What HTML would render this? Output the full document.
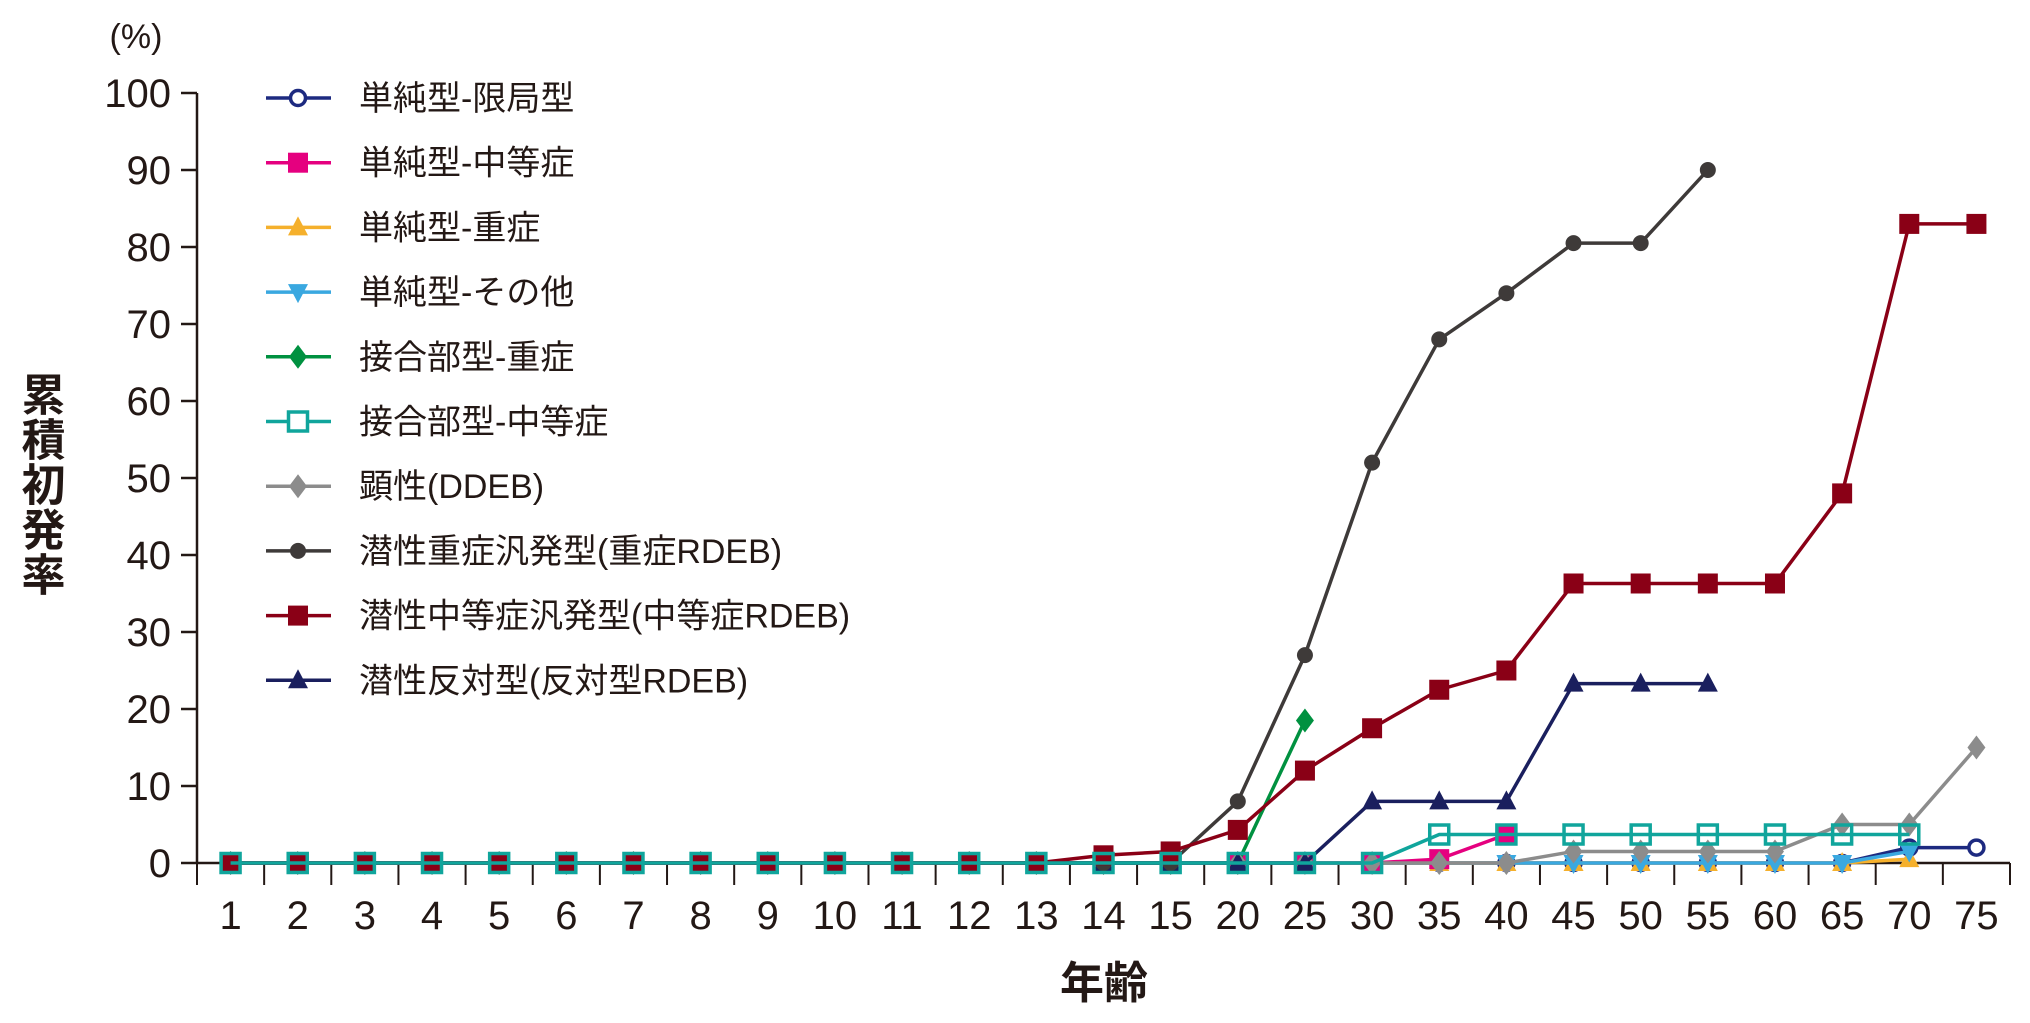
<!DOCTYPE html>
<html><head><meta charset="utf-8"><style>
html,body{margin:0;padding:0;background:#fff;}
svg{display:block;font-family:"Liberation Sans","Noto Sans CJK JP",sans-serif;}
</style></head><body>
<svg id="chart" width="2030" height="1023" viewBox="0 0 2030 1023" xmlns="http://www.w3.org/2000/svg">
<text x="136" y="48" font-size="34" text-anchor="middle" fill="#231815">(%)</text>
<text x="39" y="372" font-size="44" font-weight="bold" fill="#231815" style="writing-mode:vertical-rl;letter-spacing:1px" text-anchor="start">累積初発率</text>
<text x="1104" y="998" font-size="44" font-weight="bold" text-anchor="middle" fill="#231815">年齢</text>
<g id="axes"></g><g id="series"></g><g id="legend"></g>
</svg>
<script>
const categories=["1","2","3","4","5","6","7","8","9","10","11","12","13","14","15","20","25","30","35","40","45","50","55","60","65","70","75"];
const yTicks=[0,10,20,30,40,50,60,70,80,90,100];
const seriesNames=["単純型-限局型","単純型-中等症","単純型-重症","単純型-その他","接合部型-重症","接合部型-中等症","顕性(DDEB)","潜性重症汎発型(重症RDEB)","潜性中等症汎発型(中等症RDEB)","潜性反対型(反対型RDEB)"];
const z15=[0,0,0,0,0,0,0,0,0,0,0,0,0,0,0];
const sLocal=[...z15,0,0,0,0,0,0,0,0,0,0,2,2];
const sInter=[...z15,0,0,0,0.5,3.7,null,null,null,null,null,null,null];
const sSevere=[...z15,0,0,0,0,0,0,0,0,0,0,0.5,null];
const sOther=[...z15,0,0,0,0,0,0,0,0,0,0,1.5,null];
const jSevere=[...z15,0,18.5,null,null,null,null,null,null,null,null,null,null];
const jInter=[...z15,0,0,0,3.7,3.7,3.7,3.7,3.7,3.7,3.7,3.7,null];
const ddeb=[...z15,0,0,0,0,0,1.5,1.5,1.5,1.5,5,5,15];
const rSevere=[...z15,8,27,52,68,74,80.5,80.5,90,null,null,null,null];
const rInter=[0,0,0,0,0,0,0,0,0,0,0,0,0,1,1.5,4.3,12,17.5,22.5,25,36.3,36.3,36.3,36.3,48,83,83];
const rInv=[...z15,0,0,8,8,8,23.3,23.3,23.3,null,null,null,null];

const NS="http://www.w3.org/2000/svg";
const X0=197,X1=2010,Y0=863,Y100=93;
const step=(X1-X0)/categories.length;
const xs=i=>X0+step*(i+0.5);
function yy(v){return Y0-(Y0-Y100)*v/100;}
function mk(tag,attrs,parent){const e=document.createElementNS(NS,tag);for(const k in attrs)e.setAttribute(k,attrs[k]);parent.appendChild(e);return e;}
const axes=document.getElementById('axes');
const C="#231815";
let a=mk('line',{x1:X0,y1:Y100,x2:X0,y2:Y0,stroke:C,'stroke-width':2.5},axes);

a=mk('line',{x1:X0,y1:Y0,x2:X1,y2:Y0,stroke:C,'stroke-width':2.5},axes);

yTicks.forEach(v=>{
 const t=mk('line',{x1:X0-16,x2:X0,y1:yy(v),y2:yy(v),stroke:C,'stroke-width':2.5},axes);
 
 const l=mk('text',{x:X0-26,y:yy(v)+14,'font-size':40,'text-anchor':'end',fill:C},axes);
 
 l.textContent=v;
});
for(let i=0;i<=categories.length;i++){
 const t=mk('line',{x1:X0+step*i,x2:X0+step*i,y1:Y0,y2:Y0+22,stroke:C,'stroke-width':2},axes);
 
}
categories.forEach((c,i)=>{
 const l=mk('text',{x:xs(i),y:929,'font-size':40,'text-anchor':'middle',fill:C},axes);
 
 l.textContent=c;
});
const styles=[
 {d:sLocal,c:"#1d2a80",m:"circle",open:true},
 {d:sInter,c:"#e5007f",m:"square"},
 {d:sSevere,c:"#f5b02c",m:"tri"},
 {d:sOther,c:"#3aa8e0",m:"tridown"},
 {d:jSevere,c:"#009140",m:"diamond"},
 {d:jInter,c:"#10a59c",m:"square",open:true,nofill:true},
 {d:ddeb,c:"#8c8c8c",m:"diamond"},
 {d:rSevere,c:"#3e3a39",m:"circle"},
 {d:rInter,c:"#8a0016",m:"square"},
 {d:rInv,c:"#1a1f5e",m:"tri"}];
function marker(g,type,x,y,c,open,nofill){
 const fill=open?(nofill?"none":"#fff"):c,sw=open?3.5:0;let e;
 if(type==="circle")e=mk('circle',{cx:x,cy:y,r:open?7.5:8,fill,stroke:c,'stroke-width':sw},g);
 else if(type==="square"){const s=open?19:20;e=mk('rect',{x:x-s/2,y:y-s/2,width:s,height:s,fill,stroke:c,'stroke-width':sw},g);}
 else if(type==="tri")e=mk('polygon',{points:`${x},${y-11} ${x+10},${y+8} ${x-10},${y+8}`,fill},g);
 else if(type==="tridown")e=mk('polygon',{points:`${x},${y+11} ${x+10},${y-8} ${x-10},${y-8}`,fill},g);
 else e=mk('polygon',{points:`${x},${y-12} ${x+9},${y} ${x},${y+12} ${x-9},${y}`,fill},g);
 
}
const sg=document.getElementById('series');
const order=[0,2,3,1,4,6,9,7,8,5];
order.forEach(si=>{
 const s=styles[si];
 const g=mk('g',{},sg);
 
 let pts=[];s.d.forEach((v,i)=>{if(v!==null)pts.push([xs(i),yy(v)]);});
 const p=mk('polyline',{points:pts.map(q=>q.join(',')).join(' '),fill:'none',stroke:s.c,'stroke-width':3.5,'stroke-linejoin':'round'},g);
 
 pts.forEach(q=>marker(g,s.m,q[0],q[1],s.c,s.open,s.nofill));
});
const lg=document.getElementById('legend');
seriesNames.forEach((n,i)=>{
 const s=styles[i],y=98+64.7*i;
 const g=mk('g',{},lg);
 
 mk('line',{x1:266,x2:331,y1:y,y2:y,stroke:s.c,'stroke-width':3.5},g);
 marker(g,s.m,298,y,s.c,s.open,false);
 const t=mk('text',{x:359,y:y+12,'font-size':34,fill:C},g);
 
 t.textContent=n;
});
</script>
</body></html>
